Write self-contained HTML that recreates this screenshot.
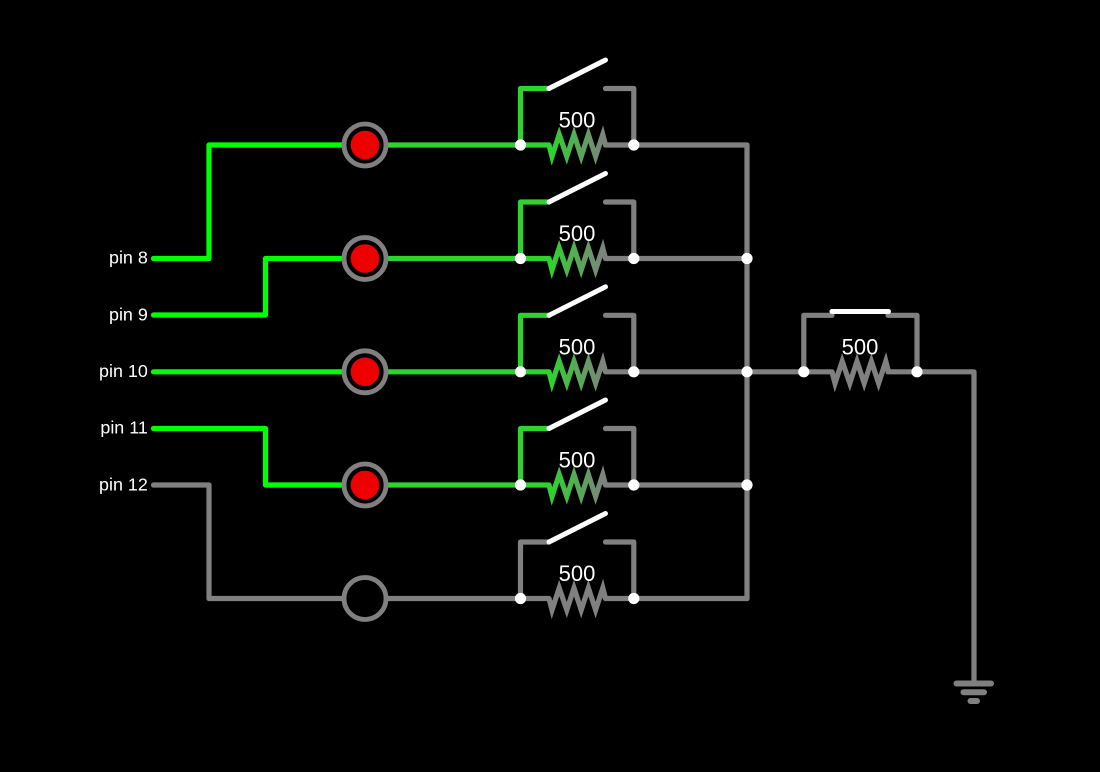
<!DOCTYPE html>
<html>
<head>
<meta charset="utf-8">
<style>
html,body{margin:0;padding:0;background:#000;width:1100px;height:772px;overflow:hidden}
svg{display:block}
text{font-family:"Liberation Sans",sans-serif;fill:#fff}
.p{font-size:17.9px;text-anchor:end}
.v{font-size:22px;text-anchor:middle}
.w{fill:none;stroke-width:5.2;stroke-linecap:round;stroke-linejoin:round}
.z{stroke-linejoin:miter;stroke-miterlimit:10;stroke-linecap:butt}
.g{stroke:#808080}.n{stroke:#00ff00}.m{stroke:#2dd42d}
.s{stroke:#fff;stroke-width:5;stroke-linecap:round;fill:none}
.e{stroke-width:6}
</style>
</head>
<body>
<svg width="1100" height="772" viewBox="0 0 1100 772" xmlns="http://www.w3.org/2000/svg">
<defs>
<linearGradient id="gr" gradientUnits="objectBoundingBox" x1="0" y1="0" x2="1" y2="0">
<stop offset="0" stop-color="#2dd42d"/><stop offset="1" stop-color="#808080"/>
</linearGradient>
<g id="rg"><path class="w z" stroke="url(#gr)" d="M549 0L552 11.500L559.200 -10.500L566.800 11.500L574 -10.500L581.200 11.500L588.400 -10.500L595.600 11.500L602.800 -10.500L605.500 0"/></g>
<g id="rn"><path class="w z g" d="M549 0L552 11.500L559.200 -10.500L566.800 11.500L574 -10.500L581.200 11.500L588.400 -10.500L595.600 11.500L602.800 -10.500L605.500 0"/></g>
<g id="rowOn">
<path class="w m" d="M387 0H549M520.500 0V-56.500H549"/>
<path class="w g" d="M605.500 0H747M633.800 0V-56.500H605.500"/>
<use href="#rg"/>
<path class="s" d="M549 -56.500L605.500 -85"/>
<circle cx="520.500" cy="0" r="5.600" fill="#fff"/>
<circle cx="633.800" cy="0" r="5.600" fill="#fff"/>
</g>
<g id="led">
<circle cx="365" cy="0" r="21" fill="#000" stroke="#808080" stroke-width="4.800"/>
<circle cx="365" cy="0" r="14.300" fill="#ee0000"/>
</g>
</defs>
<rect width="1100" height="772" fill="#000"/>

<!-- left pin wires -->
<path class="w n" d="M153.500 258.500H209V145H344"/>
<path class="w n" d="M153.500 315H265.500V258.500H344"/>
<path class="w n" d="M153.500 371.800H344"/>
<path class="w n" d="M153.500 428.500H265.500V485H344"/>
<path class="w g" d="M153.500 485H209V598.500H344"/>

<!-- rows -->
<use href="#rowOn" y="145"/>
<use href="#rowOn" y="258.500"/>
<use href="#rowOn" y="371.800"/>
<use href="#rowOn" y="485"/>

<g transform="translate(0,598.500)">
<path class="w g" d="M387 0H549M520.500 0V-56.500H549"/>
<path class="w g" d="M605.500 0H747M633.800 0V-56.500H605.500"/>
<use href="#rn"/>
<path class="s" d="M549 -56.500L605.500 -85"/>
<circle cx="520.500" cy="0" r="5.600" fill="#fff"/>
<circle cx="633.800" cy="0" r="5.600" fill="#fff"/>
</g>

<!-- bus -->
<path class="w g" d="M747 145V598.500"/>
<path class="w g" d="M747 371.800H832M888 371.800H974V683"/>
<path class="w g" d="M803.800 371.800V315.300H832M917 371.800V315.300H888"/>
<use href="#rn" transform="translate(283,371.800)"/>
<path class="s" d="M832 311.500H888.500"/>
<circle cx="747" cy="258.500" r="5.600" fill="#fff"/>
<circle cx="747" cy="371.800" r="5.600" fill="#fff"/>
<circle cx="747" cy="485" r="5.600" fill="#fff"/>
<circle cx="803.800" cy="371.800" r="5.600" fill="#fff"/>
<circle cx="917" cy="371.800" r="5.600" fill="#fff"/>

<!-- ground -->
<path class="w e g" d="M956.500 683.500H991"/>
<path class="w e g" d="M963.500 692.300H984"/>
<path class="w e g" d="M970.500 701H977"/>

<!-- LEDs -->
<use href="#led" y="145"/>
<use href="#led" y="258.500"/>
<use href="#led" y="371.800"/>
<use href="#led" y="485"/>
<circle cx="365" cy="598.500" r="21" fill="#000" stroke="#808080" stroke-width="4.800"/>

<!-- labels -->
<text class="p" x="147.800" y="263.500">pin 8</text>
<text class="p" x="147.800" y="320.500">pin 9</text>
<text class="p" x="147.800" y="377">pin 10</text>
<text class="p" x="147.800" y="433.500">pin 11</text>
<text class="p" x="147.800" y="490.500">pin 12</text>
<text class="v" x="577" y="127.500">500</text>
<text class="v" x="577" y="241">500</text>
<text class="v" x="577" y="354.500">500</text>
<text class="v" x="577" y="467.500">500</text>
<text class="v" x="577" y="581">500</text>
<text class="v" x="860" y="354.500">500</text>
</svg>
</body>
</html>
